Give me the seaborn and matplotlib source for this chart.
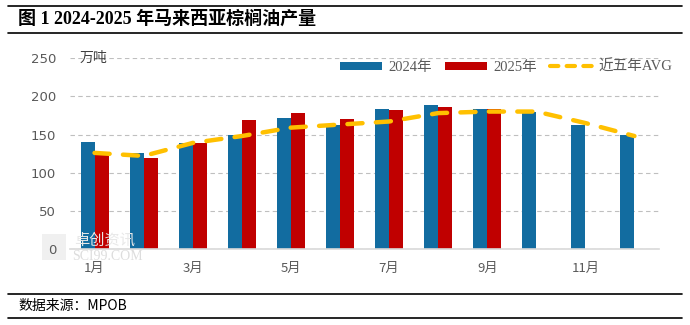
import matplotlib
matplotlib.use("Agg")
import matplotlib.pyplot as plt
import seaborn as sns
import pandas as pd
import numpy as np
from matplotlib.patches import Patch, Rectangle
from matplotlib.lines import Line2D

months = ["1月", "2月", "3月", "4月", "5月", "6月", "7月", "8月", "9月", "10月", "11月", "12月"]
prod_2024 = [140, 126, 139, 150, 171, 162, 184, 189, 183, 180, 162, 149]
prod_2025 = [123, 119, 139, 169, 178, 170, 182, 186, 184, np.nan, np.nan, np.nan]
avg_5y = [126, 122, 139, 148, 159, 163, 167, 178, 180, 180, 165, 148]
tick_show = ["1月", "", "3月", "", "5月", "", "7月", "", "9月", "", "11月", ""]
yticks = [0, 50, 100, 150, 200, 250]

sns.set_theme(style="white")
plt.rcParams["font.family"] = ["Noto Sans CJK SC", "DejaVu Sans"]

df = pd.DataFrame({
    "month": months * 2,
    "value": prod_2024 + prod_2025,
    "year": ["2024年"] * 12 + ["2025年"] * 12,
})

fig = plt.figure(figsize=(6.9, 3.25), dpi=100)
ax = fig.add_axes([70 / 690, 1 - 249.3 / 325, 589 / 690, 191.3 / 325])

c24, c25, cavg = "#126CA0", "#C00000", "#FFC000"

# watermark (behind everything)
fig.text(72 / 690, 1 - 256 / 325, "SCI99.COM", fontsize=10, color="#DDDDDD",
         family=["Liberation Serif"], va="center", ha="left", zorder=0)
fig.text(74 / 690, 1 - 240 / 325, "卓创资讯", fontsize=11, color="#E8E8E8",
         va="center", ha="left", zorder=0)
fig.add_artist(Rectangle((42 / 690, 1 - 260 / 325), 24 / 690, 26 / 325,
                         transform=fig.transFigure, facecolor="#F0F0F0",
                         edgecolor="none", zorder=0))

sns.barplot(data=df, x="month", y="value", hue="year", order=months,
            hue_order=["2024年", "2025年"], palette=[c24, c25], width=0.57,
            saturation=1, ax=ax, legend=False, edgecolor="none", linewidth=0)

sns.lineplot(x=np.arange(12), y=avg_5y, ax=ax, color=cavg, linewidth=3.2, legend=False)
ln = ax.lines[-1]
ln.set_dashes([3.4, 3.0])
ln.set_dash_capstyle("round")
ln.set_zorder(5)

ax.patch.set_alpha(0)
ax.set_xlim(-0.5, 11.5)
ax.set_ylim(0, 250)
ax.set_yticks(yticks)
ax.set_yticklabels([str(v) for v in yticks])
ax.set_xticks(np.arange(12))
ax.set_xticklabels(tick_show)
ax.set_xlabel("")
ax.set_ylabel("")
ax.tick_params(axis="both", length=0, colors="#595959", labelsize=9.5)
ax.tick_params(axis="y", pad=10)
ax.tick_params(axis="x", pad=9)
for t in ax.get_yticklabels():
    t.set_fontfamily(["DejaVu Sans"])
ax.grid(axis="y", color="#BFBFBF", linestyle=(0, (4, 3)), linewidth=0.8)
ax.set_axisbelow(True)
for s in ["left", "right", "top"]:
    ax.spines[s].set_visible(False)
ax.spines["bottom"].set_color("#D9D9D9")
ax.spines["bottom"].set_linewidth(1.2)

fig.text(80 / 690, 1 - 58 / 325, "万吨", fontsize=10,
         color="#404040", va="center", ha="left")

handles = [
    Patch(facecolor=c24, edgecolor="none"),
    Patch(facecolor=c25, edgecolor="none"),
    Line2D([0], [0], color=cavg, linewidth=3, dashes=[2.0, 2.0], dash_capstyle="round"),
]
leg = fig.legend(handles, ["2024年", "2025年", "近五年AVG"], loc="center",
                 bbox_to_anchor=(506 / 690, 1 - 67 / 325), ncol=3, frameon=False,
                 handlelength=2.9, handleheight=0.5, columnspacing=0.9,
                 handletextpad=0.4, prop={"size": 10.5,
                                          "family": ["Liberation Serif", "Noto Sans CJK SC"]})
for t in leg.get_texts():
    t.set_color("#595959")

# title and source with rules
for y in [6, 33, 294, 318]:
    fig.add_artist(Line2D([8 / 690, 682 / 690], [1 - y / 325, 1 - y / 325],
                          color="black", linewidth=1.2, transform=fig.transFigure))
fig.text(18 / 690, 1 - 19.5 / 325, "图 1 2024-2025 年马来西亚棕榈油产量", fontsize=13,
         fontweight="bold", family=["Liberation Serif", "Noto Sans CJK SC"],
         va="center", ha="left", color="black")
fig.text(18 / 690, 1 - 306 / 325, "数据来源：MPOB", fontsize=10,
         family=["Noto Sans CJK SC", "Liberation Serif"], va="center", ha="left",
         color="black")

fig.savefig("out.png", dpi=100)
